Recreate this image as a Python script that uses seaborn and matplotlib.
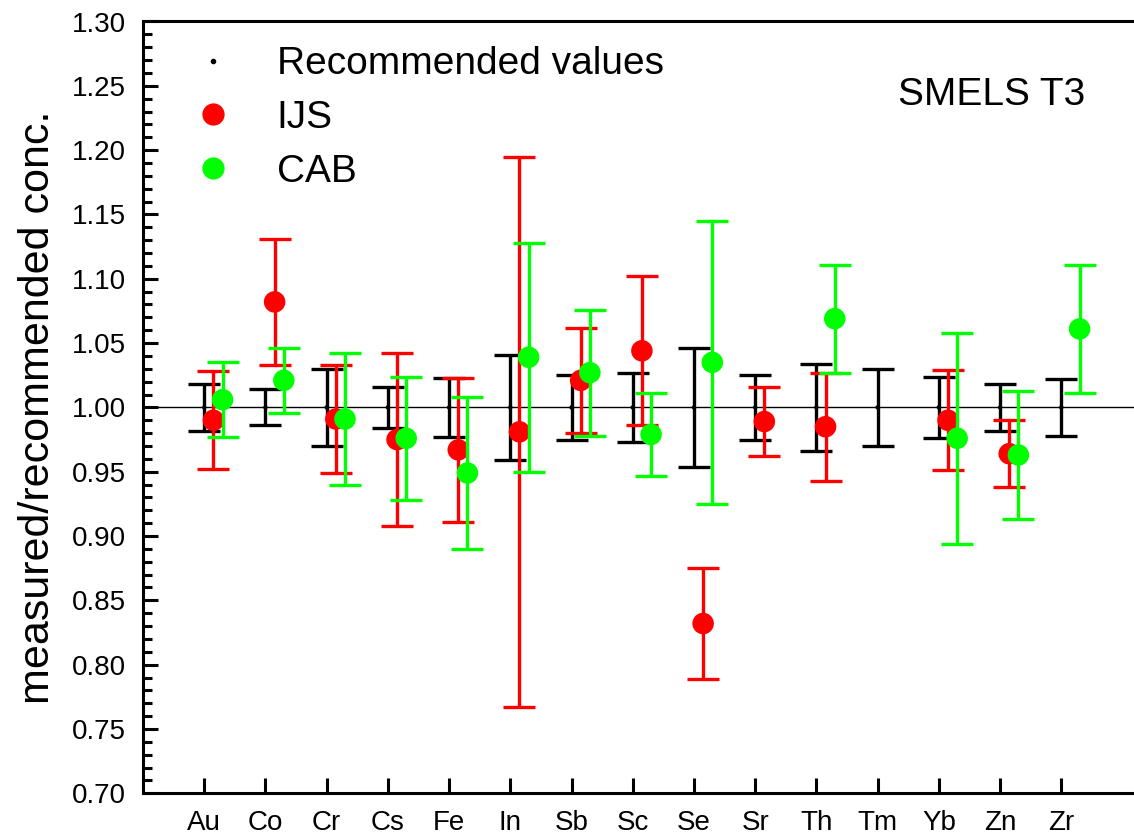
import numpy as np
import pandas as pd
import matplotlib
matplotlib.use("Agg")
import matplotlib.pyplot as plt
import seaborn as sns
from matplotlib.lines import Line2D
from matplotlib.ticker import MultipleLocator, FormatStrFormatter

nan = np.nan

elements = ["Au", "Co", "Cr", "Cs", "Fe", "In", "Sb", "Sc", "Se", "Sr", "Th", "Tm", "Yb", "Zn", "Zr"]
rec_val = [1.0] * len(elements)
rec_unc = [0.018, 0.014, 0.030, 0.016, 0.023, 0.041, 0.025, 0.027, 0.046, 0.025, 0.034, 0.030, 0.024, 0.018, 0.022]
ijs_val = [0.990, 1.082, 0.991, 0.975, 0.967, 0.981, 1.021, 1.044, 0.832, 0.989, 0.985, nan, 0.990, 0.964, nan]
ijs_unc = [0.038, 0.049, 0.042, 0.067, 0.056, 0.214, 0.041, 0.058, 0.043, 0.027, 0.042, nan, 0.039, 0.026, nan]
cab_val = [1.006, 1.021, 0.991, 0.976, 0.949, 1.039, 1.027, 0.979, 1.035, nan, 1.069, nan, 0.976, 0.963, 1.061]
cab_unc = [0.029, 0.025, 0.051, 0.048, 0.059, 0.089, 0.049, 0.032, 0.110, nan, 0.042, nan, 0.082, 0.050, 0.050]

sns.set_style("ticks")
plt.rcParams['font.family'] = ['Liberation Sans', 'DejaVu Sans']
plt.rcParams['text.color'] = 'black'
plt.rcParams['axes.labelcolor'] = 'black'
plt.rcParams['xtick.color'] = 'black'
plt.rcParams['ytick.color'] = 'black'

W, H = 1134, 838
fig = plt.figure(figsize=(W / 100, H / 100), dpi=100)
left, right, top, bottom = 143, 1150, 21.5, 793.3
ax = fig.add_axes([left / W, (H - bottom) / H, (right - left) / W, (bottom - top) / H])

x = np.arange(len(elements))
off_ijs, off_cab = 0.15, 0.30

df = pd.DataFrame({
    "x": np.concatenate([x, x + off_ijs, x + off_cab]),
    "value": np.concatenate([rec_val, ijs_val, cab_val]),
    "unc": np.concatenate([rec_unc, ijs_unc, cab_unc]),
    "lab": ["Recommended values"] * len(x) + ["IJS"] * len(x) + ["CAB"] * len(x),
})

ax.axhline(1.0, color="black", lw=1.0, zorder=1)

styles = {
    "Recommended values": dict(color="black", s=10, z=2),
    "IJS": dict(color="#ff0000", s=240, z=3),
    "CAB": dict(color="#00ff00", s=240, z=5),
}
for lab, st in styles.items():
    d = df[df["lab"] == lab].dropna()
    ax.errorbar(d["x"], d["value"], yerr=d["unc"], fmt="none", ecolor=st["color"],
                elinewidth=2.4, capsize=11.5, capthick=2.4, zorder=st["z"])
    sns.scatterplot(data=d, x="x", y="value", color=st["color"], s=st["s"],
                    edgecolor="none", ax=ax, zorder=st["z"] + 0.5, legend=False)

ax.set_xlim(-1, 15.45)
ax.set_ylim(0.70, 1.30)
ax.set_xticks(x)
ax.set_xticklabels(elements)
ax.yaxis.set_major_locator(MultipleLocator(0.05))
ax.yaxis.set_minor_locator(MultipleLocator(0.01))
ax.yaxis.set_major_formatter(FormatStrFormatter("%.2f"))
ax.tick_params(axis="both", which="major", direction="in", length=11, width=2.2,
               labelsize=20, color="black", labelcolor="black")
ax.tick_params(axis="y", which="minor", direction="in", length=6.5, width=2.2, color="black")
ax.tick_params(axis="y", which="major", pad=12)
ax.tick_params(axis="x", which="major", pad=12)
for sp in ax.spines.values():
    sp.set_linewidth(2.2)
    sp.set_color("black")
ax.set_xlabel("")
ax.set_ylabel("measured/recommended conc.", fontsize=31, labelpad=10, color="black")

handles = [
    Line2D([], [], ls="none", marker="o", color="black", markersize=3),
    Line2D([], [], ls="none", marker="o", color="#ff0000", markersize=15),
    Line2D([], [], ls="none", marker="o", color="#00ff00", markersize=15),
]
leg = ax.legend(handles, ["Recommended values", "IJS", "CAB"], loc="upper left",
                bbox_to_anchor=(0.050, 0.968), frameon=False, fontsize=28,
                handlelength=1.0, handletextpad=1.14, borderpad=0, borderaxespad=0,
                labelspacing=0.46)
for t in leg.get_texts():
    t.set_color("black")

ax.text(0.750, 0.892, "SMELS T3", transform=ax.transAxes, fontsize=28,
        va="baseline", ha="left", color="black")

fig.savefig("out.png", dpi=100)
